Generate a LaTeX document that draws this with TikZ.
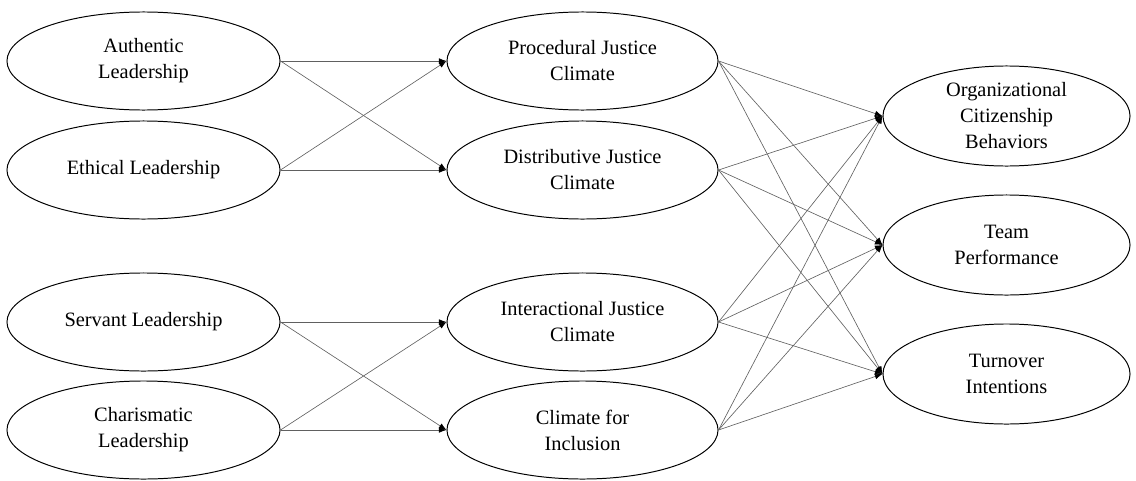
\documentclass[tikz,border=0pt]{standalone}
\usepackage{fontspec}
\setmainfont{Liberation Serif}
\usetikzlibrary{shapes.geometric,arrows.meta}
\tikzset{
	var/.style={ellipse,draw,line width=.7pt,align=center,inner sep=0pt},
	lvar/.style={var,minimum width=6.825cm,minimum height=2.45cm},
	mvar/.style={var,minimum width=6.775cm,minimum height=2.45cm},
	ovar/.style={var,minimum width=6.175cm,minimum height=2.5cm},
	link/.style={->,draw=gray!75!black,line width=.45pt}
}
\begin{document}
\begin{tikzpicture}[x=.025cm,y=-.025cm,line join=round,font=\fontsize{14.5}{18.5}\selectfont,>={Latex[length=1.9mm,width=1.4mm,color=black]}]
			\useasboundingbox (0,0) rectangle (1136,480);
			\foreach \n/\y/\g in {al/61/{Authentic\\Leadership},el/170/{Ethical Leadership},sl/322/{Servant Leadership},cl/430/{Charismatic\\Leadership}}\node[lvar](\n) at (143.5,\y){\g};
			\foreach \n/\y/\g in {pj/61/{Procedural Justice\\Climate},dj/170/{Distributive Justice\\Climate},ij/322/{Interactional Justice\\Climate},ci/430/{Climate for\\Inclusion}}\node[mvar](\n) at (582.5,\y){\g};
			\foreach \n/\y/\g in {ocb/116/{Organizational\\Citizenship\\Behaviors},tp/245/{Team\\Performance},ti/374/{Turnover\\Intentions}}\node[ovar](\n) at (1006.5,\y){\g};
			\foreach \a/\b in {al/pj,al/dj,el/pj,el/dj,sl/ij,sl/ci,cl/ij,cl/ci}\draw[link] (\a.east)--(\b.west);
			\foreach \a in {pj,dj,ij,ci}\foreach \b in {ocb,tp,ti}\draw[link] (\a.east)--(\b.west);
		\end{tikzpicture}
\end{document}
